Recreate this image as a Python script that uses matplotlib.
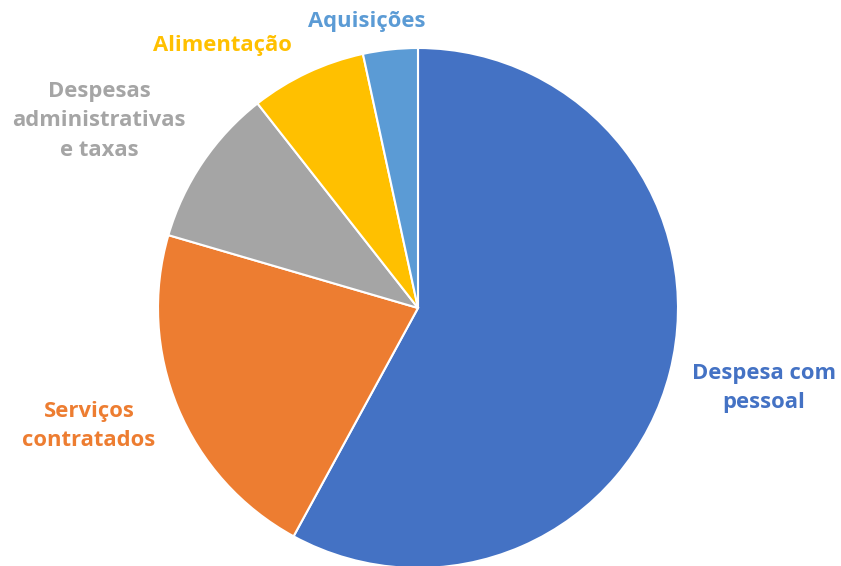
import matplotlib
matplotlib.use('Agg')
import matplotlib.pyplot as plt

labels = ['Despesa com\npessoal', 'Serviços\ncontratados', 'Despesas\nadministrativas\ne taxas', 'Alimentação', 'Aquisições']
values = [58.0, 21.6, 9.9, 7.2, 3.4]
colors = ['#4472C4', '#ED7D31', '#A5A5A5', '#FFC000', '#5B9BD5']

plt.rcParams['font.family'] = ['Open Sans', 'DejaVu Sans']

H = 566
fig = plt.figure(figsize=(8.41, 5.66), dpi=100)
ax = fig.add_axes([0, 0, 1, 1])

ax.pie(values, colors=colors, startangle=90, counterclock=False,
       center=(418, H - 308), radius=260, frame=True,
       wedgeprops=dict(edgecolor='white', linewidth=1.5))
ax.set_xlim(0, 841)
ax.set_ylim(0, H)
ax.set_aspect('equal')
ax.axis('off')

# label positions (pixels from top-left)
label_pos = [(764, 388), (89, 426), (99, 121), (222, 46), (367, 21)]
for lab, c, (x, y) in zip(labels, colors, label_pos):
    ax.text(x, H - y, lab, color=c, fontsize=15.8, fontweight='bold',
            ha='center', va='center', linespacing=1.55)

fig.savefig('out.png', dpi=100)
